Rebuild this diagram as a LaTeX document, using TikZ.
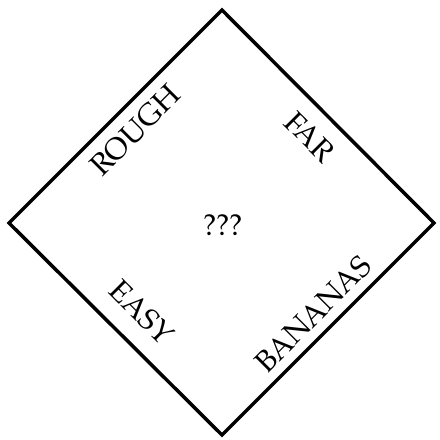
\documentclass[tikz,border=0pt]{standalone}
\usepackage{fontspec}
\setmainfont{TeX Gyre Pagella}
\begin{document}
\begin{tikzpicture}[x=1pt,y=-1pt,
  lbl/.style={inner sep=0pt, font=\fontsize{30}{36}\selectfont},
  edge/.style={line width=3.5pt, line join=miter}]
\useasboundingbox (0,0) rectangle (440,440);
\coordinate (T) at (222,10);
\coordinate (L) at (9,223);
\coordinate (B) at (222,435);
\coordinate (R) at (434,223);
\draw[edge] (T) -- (L) -- (B) -- (R) -- cycle;
\node[lbl, rotate=45] (rough) at (135,130) {ROUGH};
\node[lbl, rotate=-45] (far) at (310,137) {FAR};
\node[lbl, rotate=-45] (easy) at (142,312) {EASY};
\node[lbl, rotate=45] (bananas) at (313,314) {BANANAS};
\node[lbl] (q) at (223,225) {???};
\end{tikzpicture}
\end{document}
